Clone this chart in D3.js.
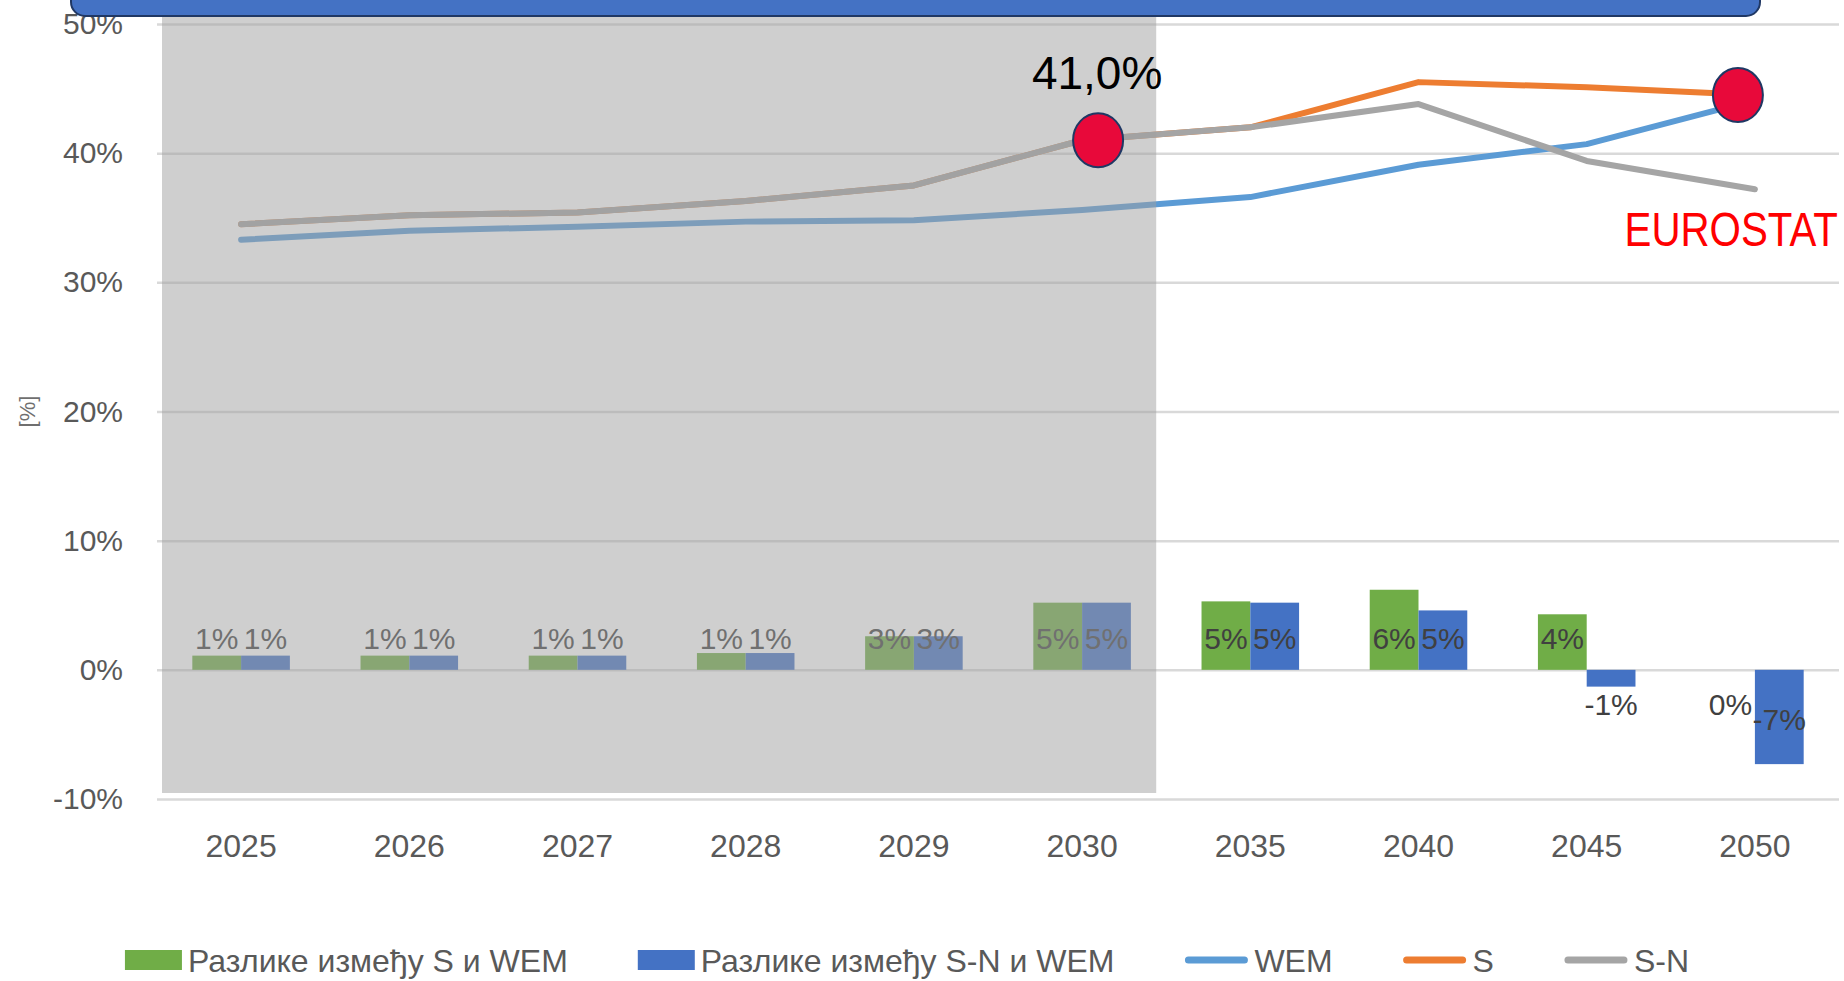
<!DOCTYPE html>
<html>
<head>
<meta charset="utf-8">
<script src="https://cdn.jsdelivr.net/npm/d3@7"></script>
<style>
  html, body { margin: 0; padding: 0; background: #fff; }
  svg { display: block; font-family: "Liberation Sans", Arial, sans-serif; }
</style>
</head>
<body>
<div id="chart"></div>
<script>
// categories
const years = ["2025", "2026", "2027", "2028", "2029", "2030", "2035", "2040", "2045", "2050"];

// bar series (differences, %)
const diffS  = [1.1, 1.1, 1.1, 1.3, 2.6, 5.2, 5.3, 6.2, 4.3, 0.0];
const diffSN = [1.1, 1.1, 1.1, 1.3, 2.6, 5.2, 5.2, 4.6, -1.3, -7.3];

// line series (%)
const wem    = [33.3, 34.0, 34.3, 34.7, 34.8, 35.6, 36.6, 39.1, 40.7, 44.1];
const sScen  = [34.5, 35.2, 35.4, 36.3, 37.5, 41.0, 42.0, 45.5, 45.1, 44.5];
const snScen = [34.5, 35.2, 35.4, 36.3, 37.5, 41.0, 42.0, 43.8, 39.4, 37.2];

const yTicks = [-10, 0, 10, 20, 30, 40, 50];

const legendLabels = ["Разлике између S и WEM", "Разлике између S-N и WEM", "WEM", "S", "S-N"];

const width = 1844;
const height = 981;
const margin = { top: 24, right: 5, bottom: 182, left: 157 };

const colGreen = "#70AD47", colBlue = "#4472C4";
const colWem = "#5B9BD5", colS = "#ED7D31", colSN = "#A5A5A5";
const txtGray = "#595959";

const svg = d3.select("#chart").append("svg")
    .attr("width", width)
    .attr("height", height);

const x = d3.scaleBand()
    .domain(years)
    .range([margin.left, width - margin.right])
    .paddingInner(0.42)
    .paddingOuter(0.21);

const xs = d3.scaleBand()
    .domain(["s", "sn"])
    .range([0, x.bandwidth()]);

const y = d3.scaleLinear()
    .domain([-10, 50])
    .range([height - margin.bottom, margin.top]);

const cx = yr => x(yr) + x.bandwidth() / 2;

// gridlines + y labels
const yAxis = svg.append("g")
    .attr("transform", `translate(${margin.left},0)`)
    .call(d3.axisLeft(y).tickValues(yTicks).tickFormat(d => d + "%")
        .tickSize(-(width - margin.right - margin.left)).tickPadding(34));
yAxis.select(".domain").remove();
yAxis.selectAll(".tick line").attr("stroke", "#d9d9d9").attr("stroke-width", 2.5);
yAxis.selectAll(".tick text")
    .attr("fill", txtGray)
    .attr("font-size", 30)
    .attr("font-family", "Liberation Sans, Arial, sans-serif");

// x labels
const xAxis = svg.append("g")
    .attr("transform", `translate(0,${y(-10)})`)
    .call(d3.axisBottom(x).tickSize(0).tickPadding(35));
xAxis.select(".domain").remove();
xAxis.selectAll(".tick text")
    .attr("fill", txtGray)
    .attr("font-size", 32)
    .attr("font-family", "Liberation Sans, Arial, sans-serif");

// axis title
svg.append("text")
    .attr("transform", `translate(35,${y(20)}) rotate(-90)`)
    .attr("text-anchor", "middle")
    .attr("font-size", 22)
    .attr("fill", "#6f6f6f")
    .text("[%]");

// bars
const barData = [];
years.forEach((yr, i) => {
    barData.push({ yr, key: "s", v: diffS[i], color: colGreen });
    barData.push({ yr, key: "sn", v: diffSN[i], color: colBlue });
});

svg.append("g").selectAll("rect")
    .data(barData)
    .enter()
    .append("rect")
    .attr("x", d => x(d.yr) + xs(d.key))
    .attr("width", xs.bandwidth())
    .attr("y", d => y(Math.max(0, d.v)))
    .attr("height", d => Math.abs(y(d.v) - y(0)))
    .attr("fill", d => d.color);

// bar labels (big negative bar gets its label a bit lower, as in the original)
svg.append("g").selectAll("text")
    .data(barData)
    .enter()
    .append("text")
    .attr("x", d => x(d.yr) + xs(d.key) + xs.bandwidth() / 2)
    .attr("y", d => d.v > 0 ? y(0) - 21 : y(0) + (d.v < -5 ? 60 : 45))
    .attr("text-anchor", "middle")
    .attr("font-size", 30)
    .attr("fill", "#404040")
    .text(d => Math.round(d.v) + "%");

// lines
const lineGen = d3.line()
    .x((d, i) => cx(years[i]))
    .y(d => y(d));

[[wem, colWem], [sScen, colS], [snScen, colSN]].forEach(([vals, c]) => {
    svg.append("path")
        .datum(vals)
        .attr("d", lineGen)
        .attr("fill", "none")
        .attr("stroke", c)
        .attr("stroke-width", 6)
        .attr("stroke-linejoin", "round")
        .attr("stroke-linecap", "round");
});

// grey overlay over 2025-2030 period
const shadeRight = cx("2030") + x.step() / 2 - 10;
svg.append("rect")
    .attr("x", x.range()[0] + 5)
    .attr("y", 0)
    .attr("width", shadeRight - x.range()[0] - 5)
    .attr("height", y(-10) - 6)
    .attr("fill", "rgba(160,160,160,0.5)");

// markers
const markers = [
    { yr: "2030", v: snScen[5], dx: 16 },
    { yr: "2050", v: sScen[9], dx: -17 }
];
svg.append("g").selectAll("ellipse")
    .data(markers)
    .enter()
    .append("ellipse")
    .attr("cx", d => cx(d.yr) + d.dx)
    .attr("cy", d => y(d.v))
    .attr("rx", 25)
    .attr("ry", 27)
    .attr("fill", "#E8093A")
    .attr("stroke", "#1F3864")
    .attr("stroke-width", 2);

svg.append("text")
    .attr("x", cx("2030") + 15)
    .attr("y", y(snScen[5]) - 51)
    .attr("text-anchor", "middle")
    .attr("font-size", 46)
    .attr("fill", "#000")
    .text(snScen[5].toFixed(1).replace(".", ",") + "%");

svg.append("text")
    .attr("transform", `translate(${x.range()[1] - 1},${y(snScen[9]) + 57}) scale(0.84,1)`)
    .attr("text-anchor", "end")
    .attr("font-size", 48)
    .attr("fill", "#FF0000")
    .text("EUROSTAT");

// banner at top
svg.append("rect")
    .attr("x", 71)
    .attr("y", -30)
    .attr("width", 1689)
    .attr("height", 46)
    .attr("rx", 14)
    .attr("fill", "#4472C4")
    .attr("stroke", "#203864")
    .attr("stroke-width", 2);

// legend
const legendItems = [
    { label: legendLabels[0], color: colGreen, type: "rect" },
    { label: legendLabels[1], color: colBlue, type: "rect" },
    { label: legendLabels[2], color: colWem, type: "line" },
    { label: legendLabels[3], color: colS, type: "line" },
    { label: legendLabels[4], color: colSN, type: "line" }
];
const legend = svg.append("g");
let lx = 0;
const gap = 70;
legendItems.forEach(it => {
    const g = legend.append("g").attr("transform", `translate(${lx},0)`);
    let sw;
    if (it.type === "rect") {
        g.append("rect").attr("x", 0).attr("y", -22).attr("width", 57).attr("height", 20).attr("fill", it.color);
        sw = 57;
    } else {
        g.append("line").attr("x1", 4).attr("x2", 60).attr("y1", -12).attr("y2", -12)
            .attr("stroke", it.color).attr("stroke-width", 7).attr("stroke-linecap", "round");
        sw = 64;
    }
    const t = g.append("text")
        .attr("x", sw + 6)
        .attr("y", 0)
        .attr("font-size", 32)
        .attr("fill", txtGray)
        .text(it.label);
    lx += sw + 6 + t.node().getComputedTextLength() + gap;
});
const legendW = lx - gap;
legend.attr("transform", `translate(${907 - legendW / 2},972)`);
</script>
</body>
</html>
